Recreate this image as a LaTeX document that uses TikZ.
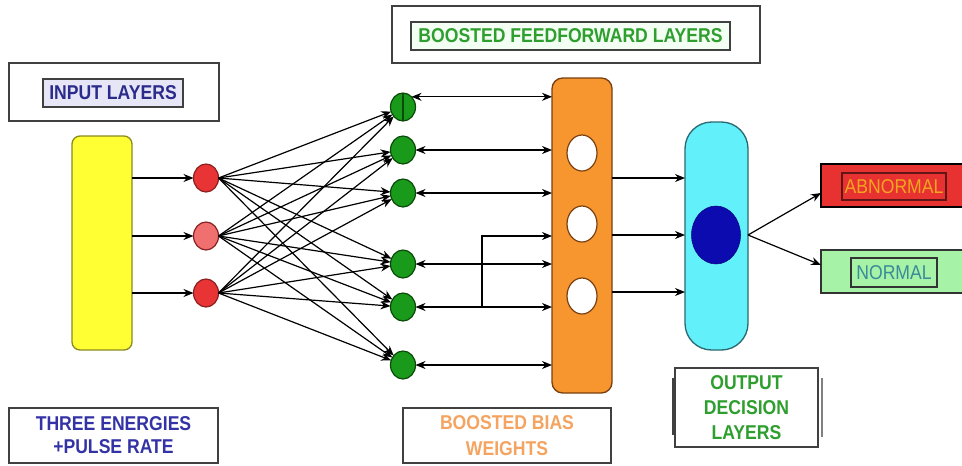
\documentclass[tikz,border=0pt]{standalone}
\usepackage{fontspec}
\setmainfont{Liberation Sans}
\newfontfamily\condfont[FakeStretch=0.88]{Liberation Sans}
\usetikzlibrary{shapes.geometric,arrows.meta}
\definecolor{boxgray}{HTML}{404040}
\definecolor{navytxt}{HTML}{2B2B8C}
\definecolor{bluetxt}{HTML}{3333A6}
\definecolor{greentxt}{HTML}{2E9E2E}
\definecolor{orangetxt}{HTML}{F4A460}
\definecolor{yellowfill}{HTML}{FFFF33}
\definecolor{yellowline}{HTML}{8A8A20}
\definecolor{redfill}{HTML}{E83434}
\definecolor{redlight}{HTML}{F07070}
\definecolor{redline}{HTML}{8A2020}
\definecolor{greenfill}{HTML}{1A9A1A}
\definecolor{greenline}{HTML}{0A4A0A}
\definecolor{orangefill}{HTML}{F7962F}
\definecolor{orangeline}{HTML}{7A4010}
\definecolor{cyanfill}{HTML}{62F0FA}
\definecolor{cyanline}{HTML}{2A6A70}
\definecolor{bluefill}{HTML}{0B0BB0}
\definecolor{abnfill}{HTML}{E83232}
\definecolor{abntxt}{HTML}{F2A51E}
\definecolor{normfill}{HTML}{A6F2A6}
\definecolor{normtxt}{HTML}{3A8A9A}
\definecolor{lavender}{HTML}{E6E6F6}
\definecolor{palegreen}{HTML}{F4FFF4}
\begin{document}
\begin{tikzpicture}[x=0.75pt,y=-0.75pt,
  wh/.style 2 args={minimum width=#1*0.75pt, minimum height=#2*0.75pt, inner sep=0pt, outer sep=0pt},
  lbl/.style={font=\condfont\fontsize{15}{17}\selectfont\bfseries},
  outerbox/.style={draw=boxgray, line width=1.3pt, fill=white},
  innerbox/.style={draw=boxgray, line width=0.8pt},
  neuron/.style={ellipse, line width=0.9pt},
  conn/.style={line width=0.9pt, -{Stealth[length=7.5pt,width=6pt]}},
  dconn/.style={line width=0.9pt, {Stealth[length=7.5pt,width=6pt]}-{Stealth[length=7.5pt,width=6pt]}}]
\useasboundingbox (0,0) rectangle (962,465);
\clip (0,0) rectangle (962,465);

% ---- label boxes
\node[outerbox, wh={210}{58}] (inbox) at (114,92) {};
\node[innerbox, fill=lavender, wh={140}{28}, lbl, text=navytxt] (intext) at (113,93) {INPUT LAYERS};

\node[outerbox, wh={368}{57}] (ffbox) at (576,34.5) {};
\node[innerbox, fill=palegreen, wh={319}{28}, lbl, text=greentxt] (fftext) at (570.5,36) {BOOSTED FEEDFORWARD LAYERS};

\node[outerbox, wh={209}{55}, text=bluetxt, align=center, font=\condfont\fontsize{15}{17.25}\selectfont\bfseries] (three) at (113.5,435.5) {THREE ENERGIES\\+PULSE RATE};

\node[outerbox, wh={208}{55}, text=orangetxt, align=center, font=\condfont\fontsize{15}{20}\selectfont\bfseries] (bias) at (507,435.5) {BOOSTED BIAS\\WEIGHTS};

\node[outerbox, wh={143}{79}, text=greentxt, align=center, font=\condfont\fontsize{15}{18.75}\selectfont\bfseries] (outdec) at (746.5,407.5) {OUTPUT\\DECISION\\LAYERS};
\draw[line width=1pt, boxgray] (673,378) -- (673,435);
\draw[line width=1.3pt, gray] (822,378) -- (822,437);

% ---- input layer
\node[draw=yellowline, fill=yellowfill, line width=1pt, rounded corners=6pt, wh={60}{214}] (yel) at (102,243) {};
\node[neuron, draw=redline, fill=redfill, wh={25}{28}] (r1) at (206,178) {};
\node[neuron, draw=redline, fill=redlight, wh={25}{28}] (r2) at (206,236) {};
\node[neuron, draw=redline, fill=redfill, wh={25}{28}] (r3) at (206,293) {};

% ---- hidden (green)
\foreach \i/\y in {1/107,2/150,3/193,4/264,5/307,6/365}
  \node[neuron, draw=greenline, fill=greenfill, wh={25}{28}] (g\i) at (403,\y) {};
\draw[line width=0.9pt, greenline] (g1.north) -- (g1.south);

% ---- orange bias block
\node[draw=orangeline, fill=orangefill, line width=1pt, rounded corners=8pt, wh={60}{315}] (ora) at (582,235.5) {};
\foreach \i/\y in {1/153,2/224,3/296}
  \node[neuron, draw=orangeline, fill=white, wh={30}{36}] (w\i) at (582,\y) {};

% ---- output decision
\node[draw=cyanline, fill=cyanfill, line width=1pt, rounded corners=20pt, wh={63}{228}] (cyan) at (716.5,236) {};
\node[ellipse, fill=bluefill, draw=bluefill!70!black, wh={49}{58}] (dec) at (716,235) {};

% ---- result boxes
\node[draw=black, fill=abnfill, line width=1pt, wh={160}{43}] (abn) at (901,185.5) {};
\node[draw=redline!70!black, fill=abnfill, line width=0.8pt, wh={104}{27}, font=\condfont\fontsize{15}{16}\selectfont, text=abntxt] (abntext) at (894,186.5) {ABNORMAL};
\node[draw=black!80, fill=normfill, line width=1pt, wh={160}{43}] (norm) at (901,271.5) {};
\node[draw=black!80, fill=normfill, line width=0.8pt, wh={86}{29}, font=\condfont\fontsize{15}{16}\selectfont, text=normtxt] (normtext) at (894,272.5) {NORMAL};

% ---- connectors: input block to red neurons
\foreach \r in {r1,r2,r3}
  \draw[conn] (yel.east |- \r) -- (\r.west);

% ---- fully connected red -> green
\foreach \r in {r1,r2,r3}
  \foreach \g in {g1,g2,g3,g4,g5,g6}
    \draw[conn] (\r.east) -- (\g);

% ---- green <-> orange
\draw[dconn] (g1.50) -- (ora.west |- g1.50);
\foreach \g in {g2,g3,g4,g5,g6}
  \draw[dconn] (\g.east) -- (ora.west |- \g.east);
\coordinate (jn) at (482,307);
\coordinate (jt) at (552,236);
\draw[conn] (jn) |- (jt);

% ---- orange -> cyan
\foreach \y in {178,235,292}
  \draw[conn] (ora.east |- 0,\y) -- (cyan.west |- 0,\y);

% ---- cyan -> results
\coordinate (co) at (cyan.east |- dec);
\draw[conn] (co) -- (abn.west |- 0,193);
\draw[conn] (co) -- (norm.west |- 0,265);
\end{tikzpicture}
\end{document}
